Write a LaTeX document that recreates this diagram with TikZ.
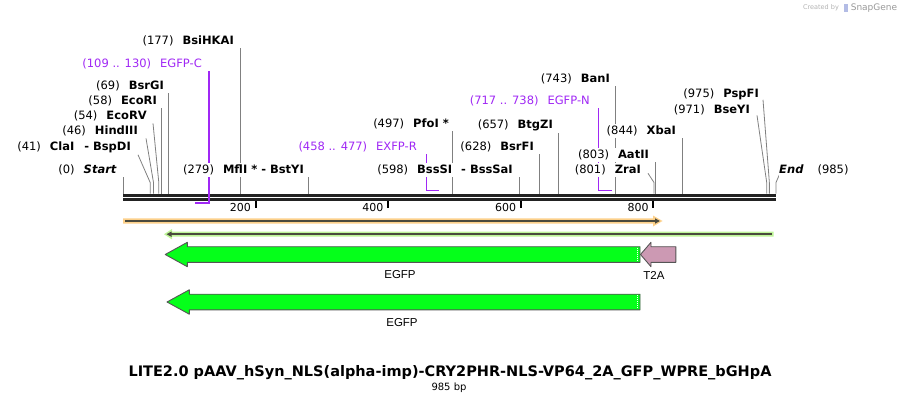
\documentclass[tikz,border=0pt]{standalone}
\usepackage{fontspec}
\setmainfont{DejaVu Sans}
\newfontfamily\featfont{Liberation Sans}
\usetikzlibrary{arrows.meta,calc,backgrounds}

\definecolor{cutgray}{RGB}{128,128,128}
\definecolor{bbdark}{RGB}{34,34,34}
\definecolor{primpurple}{RGB}{160,40,245}
\definecolor{orangehalo}{RGB}{252,208,138}
\definecolor{greenhalo}{RGB}{190,245,152}
\definecolor{featdark}{RGB}{74,74,62}
\definecolor{egfpgreen}{RGB}{5,255,26}
\definecolor{t2apink}{RGB}{204,153,179}
\definecolor{featedge}{RGB}{85,85,85}

\begin{document}
\begin{tikzpicture}[x=1pt, y=-1pt, line join=round,
  enzlab/.style={inner xsep=0pt, inner ysep=2pt, fill=white, font=\fontsize{11.5}{13}\selectfont},
  primlab/.style={enzlab, text=primpurple},
  cutline/.style={draw=cutgray, line width=0.8pt},
  primerline/.style={draw=primpurple, line width=1.6pt, line join=miter},
  featline/.style={draw=featdark, line width=2pt},
  featarrow/.style={draw=featedge, line width=0.9pt},
  featlab/.style={font=\featfont\fontsize{11.5}{13}\selectfont},
  ticklab/.style={inner sep=0pt, font=\fontsize{11}{13}\selectfont}]

  \useasboundingbox (0,0) rectangle (900,404);

  % parameters
  \def\xo{123}                      % x of base 0
  \pgfmathsetmacro{\scl}{653/985}   % pixels per base
  \def\ybb{193.5}                   % top of the backbone

  % cut positions on the backbone
  \coordinate (k0)   at (\xo,\ybb);
  \coordinate (k41)  at ({\xo+41*\scl},\ybb);
  \coordinate (k46)  at ({\xo+46*\scl},\ybb);
  \coordinate (k54)  at ({\xo+54*\scl},\ybb);
  \coordinate (k58)  at ({\xo+58*\scl},\ybb);
  \coordinate (k69)  at ({\xo+69*\scl},\ybb);
  \coordinate (k177) at ({\xo+177*\scl},\ybb);
  \coordinate (k279) at ({\xo+279*\scl},\ybb);
  \coordinate (k497) at ({\xo+497*\scl},\ybb);
  \coordinate (k598) at ({\xo+598*\scl},\ybb);
  \coordinate (k628) at ({\xo+628*\scl},\ybb);
  \coordinate (k657) at ({\xo+657*\scl},\ybb);
  \coordinate (k743) at ({\xo+743*\scl},\ybb);
  \coordinate (k801) at ({\xo+801*\scl},\ybb);
  \coordinate (k803) at ({\xo+803*\scl},\ybb);
  \coordinate (k844) at ({\xo+844*\scl},\ybb);
  \coordinate (k971) at ({\xo+971*\scl},\ybb);
  \coordinate (k975) at ({\xo+975*\scl},\ybb);
  \coordinate (k985) at ({\xo+985*\scl},\ybb);

  % primer ends
  \coordinate (p109) at ({\xo+109*\scl},203);
  \coordinate (p130) at ({\xo+130*\scl},203);
  \coordinate (p458) at ({\xo+458*\scl},190.5);
  \coordinate (p477) at ({\xo+477*\scl},190.5);
  \coordinate (p717) at ({\xo+717*\scl},190.5);
  \coordinate (p738) at ({\xo+738*\scl},190.5);

  % enzyme and primer labels (right ends, centres)
  \node[enzlab, anchor=east] (bsihkai) at (234,41) {(177)\hspace{9pt}\textbf{BsiHKAI}};
  \node[primlab, anchor=east] (egfpc) at (202,64) {(109 .. 130)\hspace{9pt}EGFP-C};
  \node[enzlab, anchor=east] (bsrgi) at (164,86) {(69)\hspace{9pt}\textbf{BsrGI}};
  \node[enzlab, anchor=east] (ecori) at (157,101) {(58)\hspace{9pt}\textbf{EcoRI}};
  \node[enzlab, anchor=east] (ecorv) at (147,116) {(54)\hspace{9pt}\textbf{EcoRV}};
  \node[enzlab, anchor=east] (hindiii) at (138,131) {(46)\hspace{9pt}\textbf{HindIII}};
  \node[enzlab, anchor=east] (clai) at (131,147) {(41)\hspace{9pt}\textbf{ClaI\hspace{10pt}- BspDI}};
  \node[enzlab, anchor=east] (startlab) at (117,170) {(0)\hspace{9pt}\textbf{\itshape Start}};
  \node[enzlab, anchor=east] (mfli) at (304,170) {(279)\hspace{9pt}\textbf{MflI * - BstYI}};
  \node[primlab, anchor=east] (exfpr) at (417,147) {(458 .. 477)\hspace{9pt}EXFP-R};
  \node[enzlab, anchor=east] (pfoi) at (449,124) {(497)\hspace{9pt}\textbf{PfoI *}};
  \node[enzlab, anchor=east] (bsssi) at (513,170) {(598)\hspace{9pt}\textbf{BssSI\hspace{9pt}- BssSaI}};
  \node[enzlab, anchor=east] (bsrfi) at (534,147) {(628)\hspace{9pt}\textbf{BsrFI}};
  \node[enzlab, anchor=east] (btgzi) at (553,125) {(657)\hspace{9pt}\textbf{BtgZI}};
  \node[primlab, anchor=east] (egfpn) at (590,101) {(717 .. 738)\hspace{9pt}EGFP-N};
  \node[enzlab, anchor=east] (bani) at (610,79) {(743)\hspace{9pt}\textbf{BanI}};
  \node[enzlab, anchor=east] (xbai) at (676,131) {(844)\hspace{9pt}\textbf{XbaI}};
  \node[enzlab, anchor=east] (aatii) at (649,155) {(803)\hspace{9pt}\textbf{AatII}};
  \node[enzlab, anchor=east] (zrai) at (641,170) {(801)\hspace{9pt}\textbf{ZraI}};
  \node[enzlab, anchor=east] (pspfi) at (759,94) {(975)\hspace{9pt}\textbf{PspFI}};
  \node[enzlab, anchor=east] (bseyi) at (750,110) {(971)\hspace{9pt}\textbf{BseYI}};
  \node[enzlab, anchor=west] (endlab) at (779,170) {\textbf{\itshape End}\hspace{14pt}(985)};

  \begin{scope}[on background layer]
  % cut lines, straight
  \draw[cutline] (k0) -- (k0 |- startlab.south);
  \draw[cutline] (k58) -- (k58 |- ecori.south);
  \draw[cutline] (k69) -- (k69 |- bsrgi.south);
  \draw[cutline] (k177) -- (k177 |- bsihkai.south);
  \draw[cutline] (k279) -- (k279 |- mfli.south);
  \draw[cutline] (k497) -- (k497 |- pfoi.south);
  \draw[cutline] (k598) -- (k598 |- bsssi.south);
  \draw[cutline] (k628) -- (k628 |- bsrfi.south);
  \draw[cutline] (k657) -- (k657 |- btgzi.south);
  \draw[cutline] (k743) -- (k743 |- bani.south);
  \draw[cutline] (k803) -- (k803 |- aatii.south);
  \draw[cutline] (k844) -- (k844 |- xbai.south);

  % cut lines, bent
  \draw[cutline] ([xshift=7pt]clai.south east) -- ([yshift=11pt]k41) -- (k41);
  \draw[cutline] ([xshift=8pt]hindiii.south east) -- ([yshift=11pt]k46) -- (k46);
  \draw[cutline] ([xshift=6pt]ecorv.south east) -- ([yshift=11pt]k54) -- (k54);
  \draw[cutline] ([xshift=7pt,yshift=4pt]zrai.south east) -- ([yshift=11pt]k801) -- (k801);
  \draw[cutline] ([xshift=7pt,yshift=2pt]bseyi.south east) -- ([yshift=11pt]k971) -- (k971);
  \draw[cutline] ([xshift=4pt,yshift=2pt]pspfi.south east) -- ([yshift=11pt]k975) -- (k975);
  \draw[cutline] ([xshift=1pt,yshift=4pt]endlab.south west) -- ([yshift=11pt]k985) -- (k985);

  % primers
  \draw[primerline] (p130 |- egfpc.south) -- (p130) -- (p109);
  \draw[primerline] (p458 |- exfpr.south) -- (p458) -- (p477);
  \draw[primerline] (p717 |- egfpn.south) -- (p717) -- (p738);
  \end{scope}

  % backbone (two strands)
  \draw[bbdark, line width=3pt] (k0 |- 0,195) -- (k985 |- 0,195);
  \draw[bbdark, line width=2.4pt] (k0 |- 0,199.5) -- (k985 |- 0,199.5);
  \draw[primpurple, line width=1.6pt] (p130 |- 0,193.4) -- (p130 |- 0,201.2);

  % ruler
  \coordinate (m200) at ({\xo+200*\scl},200.5);
  \coordinate (m400) at ({\xo+400*\scl},200.5);
  \coordinate (m600) at ({\xo+600*\scl},200.5);
  \coordinate (m800) at ({\xo+800*\scl},200.5);
  \draw[black, line width=2pt] (m200) -- ++(0,7);
  \draw[black, line width=2pt] (m400) -- ++(0,7);
  \draw[black, line width=2pt] (m600) -- ++(0,7);
  \draw[black, line width=2pt] (m800) -- ++(0,7);
  \node[ticklab, anchor=east] (t200) at ([xshift=-4.5pt,yshift=-6.5pt]m200) {200};
  \node[ticklab, anchor=east] (t400) at ([xshift=-4.5pt,yshift=-6.5pt]m400) {400};
  \node[ticklab, anchor=east] (t600) at ([xshift=-4.5pt,yshift=-6.5pt]m600) {600};
  \node[ticklab, anchor=east] (t800) at ([xshift=-4.5pt,yshift=-6.5pt]m800) {800};

  % forward ORF line (orange)
  \fill[orangehalo] (123,218.3) -- (653,218.3) -- (653,215.5) -- (662.5,221) -- (653,226.5) -- (653,223.7) -- (123,223.7) -- cycle;
  \draw[featline, -{Triangle[length=5pt,width=5pt]}] (125,221) -- (660,221);

  % reverse ORF line (green)
  \fill[greenhalo] (773.5,231.7) -- (172,231.7) -- (172,229) -- (164,234.2) -- (172,239.4) -- (172,236.7) -- (773.5,236.7) -- cycle;
  \draw[featline, -{Triangle[length=5pt,width=5pt]}] (771.5,234.2) -- (166.5,234.2);

  % EGFP and T2A
  \filldraw[featarrow, fill=egfpgreen] (640,246.7) -- (187.3,246.7) -- (187.3,242.3) -- (165.2,254.5)
    -- (187.3,266.7) -- (187.3,262.3) -- (640,262.3) -- cycle;
  \draw[white, line width=0.8pt, dash pattern=on 1pt off 1pt] (637.6,247.5) -- (637.6,261.5);
  \filldraw[featarrow, fill=t2apink] (675.8,246.7) -- (651,246.7) -- (651,242.3) -- (640.5,254.5)
    -- (651,266.7) -- (651,262.3) -- (675.8,262.3) -- cycle;
  \node[featlab] (egfp1) at (400,275) {EGFP};
  \node[featlab] (t2a) at (654,275) {T2A};

  \filldraw[featarrow, fill=egfpgreen] (640,294.2) -- (189.3,294.2) -- (189.3,289.8) -- (167,302)
    -- (189.3,314.2) -- (189.3,309.8) -- (640,309.8) -- cycle;
  \draw[white, line width=0.8pt, dash pattern=on 1pt off 1pt] (637.6,295) -- (637.6,309);
  \node[featlab] (egfp2) at (402,323) {EGFP};

  % title
  \node[font=\fontsize{14.5}{16}\selectfont\bfseries] (title) at (450,373)
    {LITE2.0 pAAV\_hSyn\_NLS(alpha-imp)-CRY2PHR-NLS-VP64\_2A\_GFP\_WPRE\_bGHpA};
  \node[font=\fontsize{10}{12}\selectfont] (length) at (449,388) {985 bp};

  % watermark
  \node[text=black!30, font=\fontsize{6.5}{8}\selectfont] (created) at (821,8) {Created by};
  \fill[cyan!35!blue!30] (843.5,4) rectangle (847.5,12.5);
  \node[text=black!40, font=\fontsize{9}{10}\selectfont] (snapgene) at (874,8) {SnapGene};

\end{tikzpicture}
\end{document}
